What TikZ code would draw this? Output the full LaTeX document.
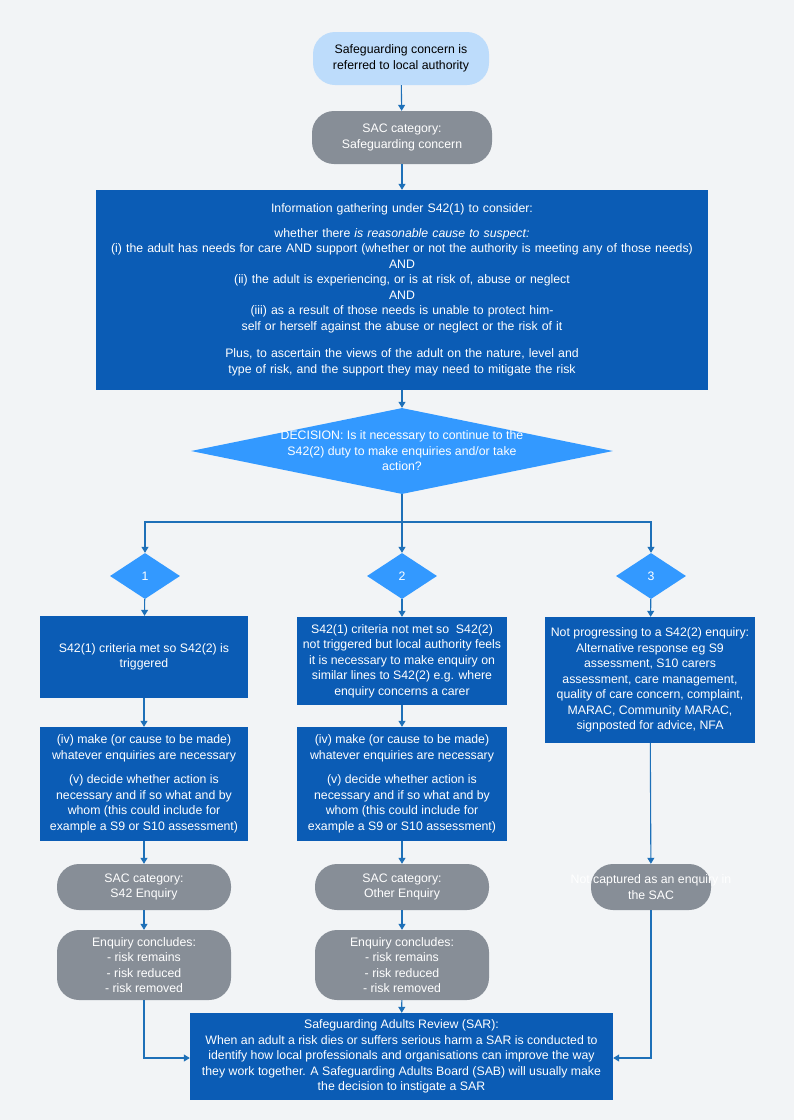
\documentclass[tikz,border=0pt]{standalone}
\usepackage{fontspec}
\setmainfont{Liberation Sans}
\usetikzlibrary{shapes.geometric,positioning,arrows.meta}
\definecolor{bgcol}{HTML}{F2F4F6}
\definecolor{startcol}{HTML}{BDDCFB}
\definecolor{greycol}{HTML}{878E97}
\definecolor{boxcol}{HTML}{0B5CB5}
\definecolor{diacol}{HTML}{3399FF}
\definecolor{linecol}{HTML}{1E70B8}
\tikzset{
  every node/.style={font=\fontsize{12.3}{15.5}\selectfont, align=center, inner sep=2pt},
  startbox/.style={rounded corners=22pt, fill=startcol, text=black},
  greybox/.style={rounded corners=22pt, fill=greycol, text=white},
  bluebox/.style={fill=boxcol, text=white},
  decision/.style={diamond, fill=diacol, text=white, aspect=2.2, inner sep=0pt},
  flow/.style={draw=linecol, line width=1.1pt, -{Triangle[length=6pt,width=7pt]}}
}
\newcommand{\boxat}[6]{% name, style, x1, y1, x2, y2
  \node[#2, minimum width=#5pt-#3pt, minimum height=#6pt-#4pt] (#1) at ({(#3+#5)/2},{(#4+#6)/2}) {};}
\begin{document}
\begin{tikzpicture}[x=1pt,y=-1pt]
\fill[bgcol] (0,0) rectangle (794,1120);
\useasboundingbox (0,0) rectangle (794,1120);

% top of the chart
\boxat{start}{startbox}{313}{32}{489}{85}
\node at (start) {Safeguarding concern is\\referred to local authority};
\boxat{sac}{greybox}{312}{111}{492}{164}
\node[text=white] at (sac) {SAC category:\\Safeguarding concern};
\boxat{info}{bluebox}{96}{190}{708}{390}
\node[text=white, text width=596pt] at (info) {Information gathering under S42(1) to consider:\\[9pt]
whether there \textit{is reasonable cause to suspect:}\\
(i) the adult has needs for care AND support (whether or not the authority is meeting any of those needs)\\
AND\\
(ii) the adult is experiencing, or is at risk of, abuse or neglect\\
AND\\
(iii) as a result of those needs is unable to protect himself or herself against the abuse or neglect or the risk of it\\[12pt]
Plus, to ascertain the views of the adult on the nature, level and type of risk, and the support they may need to mitigate the risk};
\node[decision, minimum width=422pt, minimum height=86pt] (dec) at (402,451) {};
\node[text=white] at (dec) {DECISION: Is it necessary to continue to the\\S42(2) duty to make enquiries and/or take\\action?};

% three routes
\node[decision, minimum width=70pt, minimum height=46pt] (d1) at (145,576) {1};
\node[decision, minimum width=70pt, minimum height=46pt] (d2) at (402,576) {2};
\node[decision, minimum width=70pt, minimum height=46pt] (d3) at (651,576) {3};
\coordinate (split) at (402,522);

\boxat{met}{bluebox}{40}{616}{248}{698}
\node[text=white] at (met) {S42(1) criteria met so S42(2) is\\triggered};
\boxat{notmet}{bluebox}{297}{617}{507}{705}
\node[text=white] at (notmet) {S42(1) criteria not met so \ S42(2)\\not triggered but local authority feels\\it is necessary to make enquiry on\\similar lines to S42(2) e.g. where\\enquiry concerns a carer};
\boxat{alt}{bluebox}{545}{617}{755}{743}
\node[text=white] at (alt) {Not progressing to a S42(2) enquiry:\\Alternative response eg S9\\assessment, S10 carers\\assessment, care management,\\quality of care concern, complaint,\\MARAC, Community MARAC,\\signposted for advice, NFA};

\boxat{act1}{bluebox}{40}{727}{248}{841}
\node[text=white] at (act1) {(iv) make (or cause to be made)\\whatever enquiries are necessary\\[9pt](v) decide whether action is\\necessary and if so what and by\\whom (this could include for\\example a S9 or S10 assessment)};
\boxat{act2}{bluebox}{297}{727}{507}{841}
\node[text=white] at (act2) {(iv) make (or cause to be made)\\whatever enquiries are necessary\\[9pt](v) decide whether action is\\necessary and if so what and by\\whom (this could include for\\example a S9 or S10 assessment)};

\boxat{cat1}{greybox}{57}{864}{231}{910}
\node[text=white] at (cat1) {SAC category:\\S42 Enquiry};
\boxat{cat2}{greybox}{315}{864}{489}{910}
\node[text=white] at (cat2) {SAC category:\\Other Enquiry};
\boxat{cat3}{greybox}{591}{864}{711}{910}
\node[text=white] at (cat3) {Not captured as an enquiry in\\the SAC};

\boxat{end1}{greybox}{57}{930}{231}{1000}
\node[text=white] at (end1) {Enquiry concludes:\\- risk remains\\- risk reduced\\- risk removed};
\boxat{end2}{greybox}{315}{930}{489}{1000}
\node[text=white] at (end2) {Enquiry concludes:\\- risk remains\\- risk reduced\\- risk removed};

\boxat{sar}{bluebox}{190}{1013}{613}{1100}
\node[text=white] at (sar) {Safeguarding Adults Review (SAR):\\When an adult a risk dies or suffers serious harm a SAR is conducted to\\identify how local professionals and organisations can improve the way\\they work together. A Safeguarding Adults Board (SAB) will usually make\\the decision to instigate a SAR};

% connectors
\draw[flow] (start) -- (sac);
\draw[flow] (sac) -- (info);
\draw[flow] (info) -- (dec);
\draw[draw=linecol, line width=1.1pt] (dec.south) -- (split);
\draw[flow] (split) -| (d1);
\draw[flow] (split) -- (d2);
\draw[flow] (split) -| (d3);
\draw[flow] (d1) -- (met);
\draw[flow] (d2) -- (notmet);
\draw[flow] (d3) -- (alt);
\draw[flow] (met) -- (act1);
\draw[flow] (notmet) -- (act2);
\draw[flow] (act1) -- (cat1);
\draw[flow] (act2) -- (cat2);
\draw[flow] (alt) -- (cat3);
\draw[flow] (cat1) -- (end1);
\draw[flow] (cat2) -- (end2);
\draw[flow] (end2) -- (sar);
\draw[flow] (end1.south) |- (sar.west |- 0,1058);
\draw[flow] (cat3.south) |- (sar.east |- 0,1058);
\end{tikzpicture}
\end{document}
